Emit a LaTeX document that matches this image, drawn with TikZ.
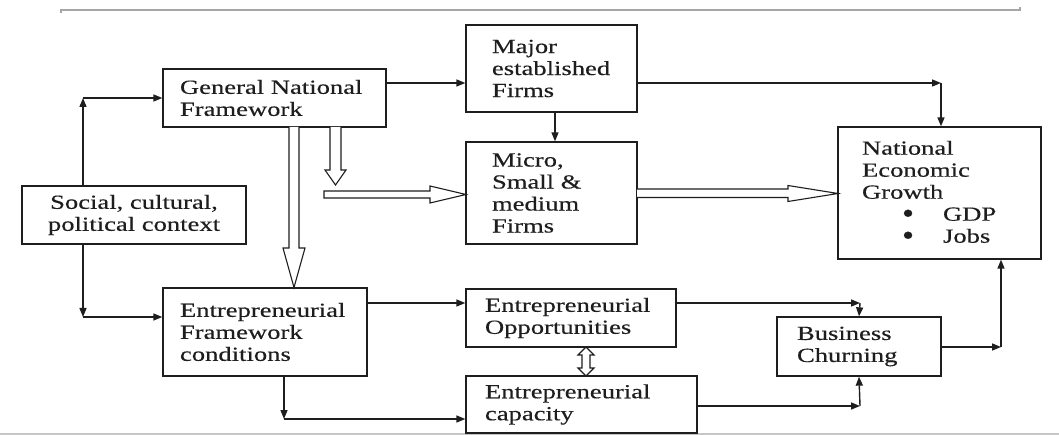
\documentclass[tikz,border=0pt]{standalone}
\usepackage{fontspec}
\setmainfont{Liberation Serif}[FakeStretch=1.33,FakeBold=0.35]
\usetikzlibrary{arrows.meta,calc}
\definecolor{ink}{HTML}{1E1E1E}
\newcommand\boxfont{\fontsize{20}{22}\selectfont}
\newcommand\bigdot{\raisebox{-2.5pt}{\scalebox{1.3}[1.5]{\textbullet}}}
\begin{document}
\begin{tikzpicture}[x=1pt,y=-1pt,
  box/.style={draw=ink, line width=1.3pt, text=ink, inner ysep=0pt, align=left, font=\boxfont},
  arr/.style={draw=ink, line width=1.4pt, -{Triangle[length=9pt,width=7pt]}},
  hollow/.style={draw=ink, line width=1.1pt, fill=white, line join=miter}]
\fill[white] (0,0) rectangle (1059,435);
\useasboundingbox (0,0) rectangle (1059,435);
% frame lines
\draw[gray!70, line width=1.6pt] (61,13) -- (61,10) -- (1020,10) -- (1020,7);
\draw[gray!45, line width=1.6pt] (0,434) -- (1059,434);
% boxes
\node[box, minimum height=58pt, text width=189pt, inner xsep=17pt] (gnf) at (274.5,98) {\mbox{General National}\\Framework};
\node[box, minimum height=87pt, text width=119pt, inner xsep=26pt] (major) at (551.5,68.5) {Major\\established\\Firms};
\node[box, minimum height=102pt, text width=119pt, inner xsep=26pt] (micro) at (551.5,193) {Micro,\\Small \&\\medium\\Firms};
\node[box, align=center, minimum height=58pt, text width=204pt, inner xsep=10pt] (social) at (134,215) {Social, cultural,\\political context};
\node[box, minimum height=88pt, text width=170pt, inner xsep=17pt] (efc) at (265,332) {Entrepreneurial\\Framework\\conditions};
\node[box, minimum height=58pt, text width=172pt, inner xsep=19pt] (opp) at (571,318) {Entrepreneurial\\Opportunities};
\node[box, minimum height=57pt, text width=193pt, inner xsep=19pt] (cap) at (581.5,404.5) {Entrepreneurial\\capacity};
\node[box, minimum height=59pt, text width=124pt, inner xsep=20pt] (bc) at (859,346.5) {Business\\Churning};
\node[box, minimum height=132pt, text width=155pt, inner xsep=24pt] (neg) at (939.5,193) {National\\Economic\\Growth\\\hspace*{40pt}\makebox[41pt][l]{\bigdot}GDP\\\hspace*{40pt}\makebox[41pt][l]{\bigdot}Jobs};
% corner coordinates
\coordinate (c1) at (83,98);
\coordinate (c2) at (83,317);
\coordinate (c3) at (941,83);
\coordinate (c4) at (284,419);
\coordinate (c5) at (860,303);
\coordinate (c6) at (860,406);
\coordinate (c7) at (1001,347);
% connectors
\draw[arr] (social.north -| c1) -- (c1);
\draw[arr] (c1) -- (c1 -| gnf.west);
\draw[arr] (social.south -| c2) -- (c2);
\draw[arr] (c2) -- (c2 -| efc.west);
\draw[arr] (gnf.east |- c3) -- (c3 -| major.west);
\draw[arr] (major.east |- c3) -- (c3);
\draw[arr] (c3) -- (c3 |- neg.north);
\draw[arr] (major.south -| 555,0) -- (micro.north -| 555,0);
\draw[arr] (efc.east |- c5) -- (c5 -| opp.west);
\draw[arr] (efc.south -| c4) -- (c4);
\draw[arr] (c4) -- (c4 -| cap.west);
\draw[arr] (opp.east |- c5) -- (c5);
\draw[arr] (c5) -- (bc.north);
\draw[arr] (cap.east |- c6) -- (c6);
\draw[arr] (c6) -- (bc.south);
\draw[arr] (bc.east |- c7) -- (c7);
\draw[arr] (c7) -- (c7 |- neg.south);
% hollow arrows
\draw[hollow] (289,127) -- (289,248) -- (283,248) -- (294,287.5) -- (305,248) -- (299,248) -- (299,127);
\draw[hollow] (330,127) -- (330,170) -- (325,170) -- (335.5,185) -- (346,170) -- (341,170) -- (341,127);
\draw[hollow] (324,191) -- (430,191) -- (430,186) -- (466,194.5) -- (430,203) -- (430,198) -- (324,198) -- cycle;
\draw[hollow] (637,189) -- (788,189) -- (788,185.5) -- (838,193.5) -- (788,201.5) -- (788,197.5) -- (637,197.5);
\draw[hollow] (582,355) -- (578,355) -- (586,347) -- (594,355) -- (590,355) -- (590,368) -- (594,368) -- (586,376) -- (578,368) -- (582,368) -- cycle;
\end{tikzpicture}
\end{document}
